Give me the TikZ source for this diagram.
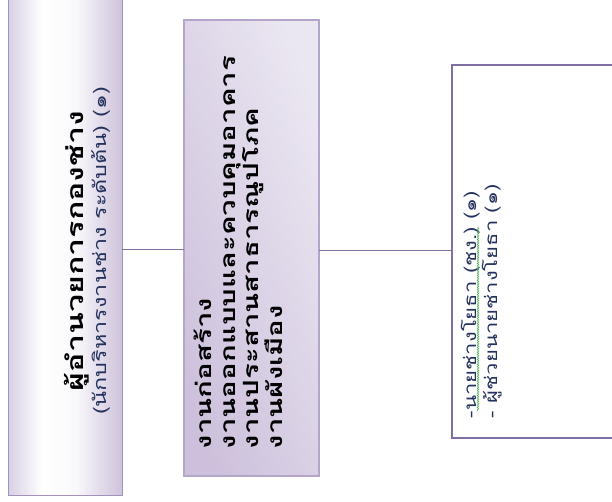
\documentclass[tikz,border=0pt]{standalone}
\usepackage{fontspec}
\usepackage{xcolor}
\newfontfamily\thaifont[Script=Thai]{Loma}
\newfontfamily\thaiwide[Script=Thai,FakeStretch=1.4]{Loma}
\newfontfamily\thaimid[Script=Thai,FakeStretch=1.3]{Loma}
\usetikzlibrary{decorations.pathmorphing}
\definecolor{lavender}{HTML}{B3A2C8}
\definecolor{lavdark}{HTML}{A292BA}
\definecolor{lilac}{HTML}{CDC0DC}
\definecolor{lilaclight}{HTML}{EBE7F1}
\definecolor{lilacline}{HTML}{B4A6CB}
\definecolor{frame}{HTML}{7F6FA3}
\definecolor{inkblue}{HTML}{24315C}
\definecolor{spellgreen}{HTML}{3DAE45}
\pgfdeclarehorizontalshading{tube}{100bp}{color(0bp)=(lavender); color(18bp)=(lavender!75!white);
  color(40bp)=(white); color(55bp)=(white!92!lavender); color(82bp)=(lavender!85!white); color(100bp)=(lavender)}

\begin{document}
\begin{tikzpicture}[x=1pt, y=-1pt, font=\thaifont,
    every node/.style={inner sep=0pt, outer sep=0pt},
    headbox/.style={draw=lavdark, line width=0.6pt, shading=tube},
    unitbox/.style={draw=lilacline, line width=1.2pt, left color=lilac, right color=lilaclight, shading angle=110},
    staffbox/.style={draw=frame, line width=1.2pt, fill=white},
    link/.style={draw=frame, line width=0.9pt},
    uptext/.style={rotate=90, anchor=base west, text=inkblue, font=\thaimid\fontsize{17}{21}\selectfont}]
  \useasboundingbox (0,0) rectangle (612,502);
  \fill[white] (0,0) rectangle (612,502);

  % boxes
  \node[headbox, minimum width=114pt, minimum height=500pt] (head) at (65,245) {};
  \node[unitbox, minimum width=135pt, minimum height=456pt] (unit) at (251.5,248) {};
  \node[staffbox, minimum width=168pt, minimum height=373pt] (staff) at (536,251.5) {};

  % connectors
  \draw[link] (head.east |- 0,249) -- (unit.west |- 0,249);
  \draw[link] (unit.east |- 0,250) -- (staff.west |- 0,250);

  % texts
  \node[rotate=90, align=center, font=\thaimid\fontsize{18}{23}\selectfont] (headtext) at (87,251)
    {{\thaiwide\bfseries\fontsize{23}{23}\selectfont ผู้อำนวยการกองช่าง}\\\textcolor{inkblue}{(นักบริหารงานช่าง ระดับต้น) (๑)}};
  \node[rotate=90, anchor=north west, align=left, font=\thaiwide\bfseries\fontsize{21}{23.5}\selectfont] (unittext) at (194,449)
    {งานก่อสร้าง\\งานออกแบบและควบคุมอาคาร\\งานประสานสาธารณูปโภค\\งานผังเมือง};

  \node[uptext] (dash1) at (476,418) {-\ };
  \node[uptext] (eng) at (dash1.base east) {นายช่างโยธา (ชง.)};
  \node[uptext] (rank1) at (eng.base east) {\ (๑)};
  \draw[spellgreen, line width=0.6pt, decorate, decoration={snake, amplitude=0.7pt, segment length=2.4pt}]
    ([xshift=2pt]eng.base west) -- ([xshift=2pt]eng.base east);
  \node[uptext] (asst) at (497,418) {- ผู้ช่วยนายช่างโยธา (๑)};
\end{tikzpicture}
\end{document}
